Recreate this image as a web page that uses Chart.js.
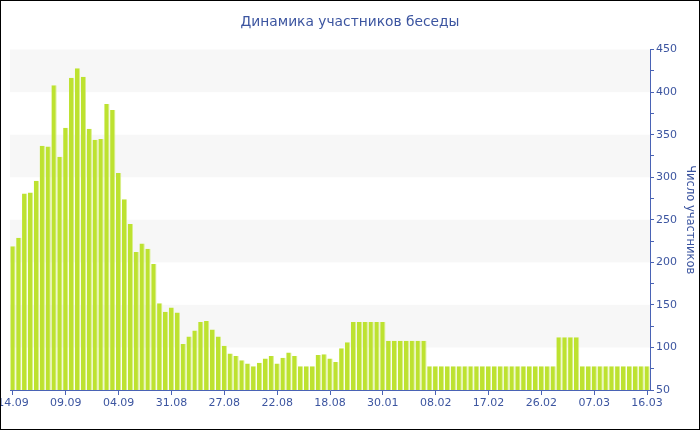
<!DOCTYPE html>
<html>
<head>
<meta charset="utf-8">
<script src="https://cdn.jsdelivr.net/npm/chart.js@4.4.0/dist/chart.umd.min.js"></script>
<style>
  html, body { margin: 0; padding: 0; background: #fff; }
  #wrap { width: 700px; height: 430px; box-sizing: border-box; border: 1px solid #000; overflow: hidden; }
  canvas { display: block; }
</style>
</head>
<body>
<div id="wrap"><canvas id="chart" width="698" height="428"></canvas></div>
<script>
// tick labels shown every 9th bar
const tickLabels = ['14.09', '09.09', '04.09', '31.08', '27.08', '22.08', '18.08',
                    '30.01', '08.02', '17.02', '26.02', '07.03', '16.03'];

// participants per bar
const members = [
  219, 229, 281, 282, 296, 337, 336, 408, 324, 358,
  417, 428, 418, 357, 344, 345, 386, 379, 305, 274,
  245, 212, 222, 216, 198, 152, 142, 147, 141, 104,
  113, 120, 130, 131, 121, 113, 102, 93, 90, 85,
  81, 78, 82, 87, 90, 81, 88, 94, 90, 78,
  78, 78, 91, 92, 87, 83, 99, 106, 130, 130,
  130, 130, 130, 130, 108, 108, 108, 108, 108, 108,
  108, 78, 78, 78, 78, 78, 78, 78, 78, 78,
  78, 78, 78, 78, 78, 78, 78, 78, 78, 78,
  78, 78, 78, 112, 112, 112, 112, 78, 78, 78,
  78, 78, 78, 78, 78, 78, 78, 78, 78
];

const categories = members.map(function(v, i) {
  return i % 9 === 0 ? tickLabels[i / 9] : '';
});

const textColor = '#3c55a0';
const axisColor = '#4a63b5';

// grey bands behind the bars
const bandsPlugin = {
  id: 'bands',
  beforeDatasetsDraw: function(chart) {
    const ctx = chart.ctx, area = chart.chartArea, y = chart.scales.y;
    ctx.save();
    ctx.fillStyle = '#f7f7f7';
    for (let v = 100; v < 450; v += 100) {
      const top = y.getPixelForValue(v + 50), bottom = y.getPixelForValue(v);
      ctx.fillRect(area.left, top, area.right - area.left, bottom - top);
    }
    ctx.restore();
  }
};

const ctx = document.getElementById('chart').getContext('2d');
new Chart(ctx, {
  type: 'bar',
  data: {
    labels: categories,
    datasets: [{
      data: members,
      backgroundColor: '#bde230',
      borderColor: '#d9ef8c',
      borderWidth: { left: 0, right: 1, top: 0, bottom: 0 },
      barPercentage: 0.9,
      categoryPercentage: 1.0
    }]
  },
  plugins: [bandsPlugin],
  options: {
    responsive: false,
    animation: false,
    layout: { padding: 0 },
    plugins: {
      legend: { display: false },
      tooltip: { enabled: false },
      title: {
        display: true,
        text: 'Динамика участников беседы',
        color: textColor,
        font: { family: 'DejaVu Sans', size: 13.8, weight: 'normal' },
        padding: { top: 13, bottom: 19 }
      }
    },
    scales: {
      x: {
        offset: true,
        afterFit: function(scale) {
          scale.paddingLeft = 9;
          scale.paddingRight = 0;
          scale.height = 39;
        },
        border: { color: axisColor, width: 1 },
        grid: {
          offset: false,
          drawOnChartArea: false,
          tickLength: 5,
          tickColor: function(c) { return c.index % 9 === 0 ? axisColor : 'rgba(0,0,0,0)'; }
        },
        ticks: {
          autoSkip: false,
          maxRotation: 0,
          padding: 2,
          color: textColor,
          font: { family: 'DejaVu Sans', size: 11 }
        }
      },
      y: {
        position: 'right',
        min: 50,
        max: 450,
        afterFit: function(scale) { scale.width = 49; },
        border: { color: axisColor, width: 1 },
        grid: { drawOnChartArea: false, tickLength: 4, tickColor: axisColor },
        ticks: {
          stepSize: 25,
          padding: 2,
          color: textColor,
          font: { family: 'DejaVu Sans', size: 11 },
          callback: function(v) { return v % 50 === 0 ? v : ''; }
        },
        title: {
          display: true,
          text: 'Число участников',
          color: textColor,
          font: { family: 'DejaVu Sans', size: 11.5 },
          padding: { top: 2, bottom: 0 }
        }
      }
    }
  }
});
</script>
</body>
</html>
